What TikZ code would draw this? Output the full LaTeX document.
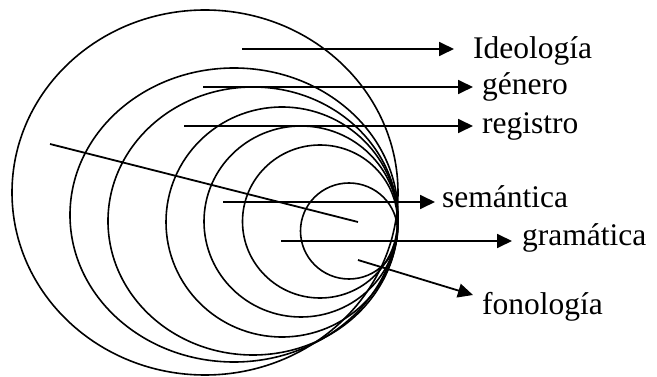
\documentclass[tikz,border=0pt]{standalone}
\usepackage{fontspec}
\setmainfont{Liberation Serif}
\usetikzlibrary{arrows.meta, positioning}
\tikzset{
    ring/.style={draw=black, line width=1.6pt},
    pointer/.style={-{Triangle[length=15pt,width=14pt]}, line width=1.8pt, black},
    plainline/.style={line width=1.8pt, black},
    levellabel/.style={anchor=base west, inner sep=0pt, font=\fontsize{31.5}{36}\selectfont},
}
\begin{document}
\begin{tikzpicture}[x=1pt,y=-1pt]
\useasboundingbox (0,0) rectangle (657,377);

% nested levels, all touching on the right
\draw[ring] (205,192.5) ellipse [x radius=193, y radius=182.5];
\draw[ring] (234,215) ellipse [x radius=164, y radius=147];
\draw[ring] (253,221) ellipse [x radius=145, y radius=134];
\draw[ring] (282,222) ellipse [x radius=116, y radius=115];
\draw[ring] (301,221.5) ellipse [x radius=97, y radius=95.5];
\draw[ring] (320,221.5) ellipse [x radius=77.5, y radius=76.5];
\draw[ring] (349,231) ellipse [x radius=48.5, y radius=48];

\coordinate (ideoS) at (242,49);
\coordinate (ideoT) at (454,49);
\coordinate (genS) at (203,87);
\coordinate (genT) at (473,87);
\coordinate (regS) at (184,126);
\coordinate (regT) at (473,126);
\coordinate (semS) at (223,202);
\coordinate (semT) at (435,202);
\coordinate (gramS) at (281,241);
\coordinate (gramT) at (512,241);
\coordinate (fonS) at (358,260);
\coordinate (fonT) at (473,295);
\coordinate (crossS) at (50,144);
\coordinate (crossT) at (358,222);

\node[levellabel] (ideologia) at (473,59) {Ideología};
\node[levellabel] (genero) at (482,95) {género};
\node[levellabel] (registro) at (482,134) {registro};
\node[levellabel] (semantica) at (442,208) {semántica};
\node[levellabel] (gramatica) at (522,246) {gramática};
\node[levellabel] (fonologia) at (482,315) {fonología};

\draw[pointer] (ideoS) -- (ideoT);
\draw[pointer] (genS) -- (genT);
\draw[pointer] (regS) -- (regT);
\draw[pointer] (semS) -- (semT);
\draw[pointer] (gramS) -- (gramT);
\draw[pointer] (fonS) -- (fonT);
\draw[plainline] (crossS) -- (crossT);
\end{tikzpicture}
\end{document}
